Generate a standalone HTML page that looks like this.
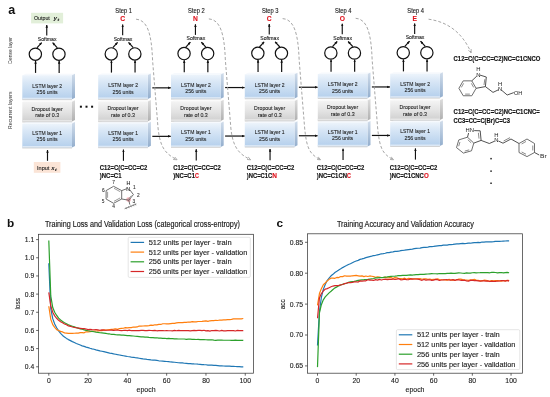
<!DOCTYPE html>
<html><head><meta charset="utf-8"><style>
html,body{margin:0;padding:0;background:#fff;overflow:hidden;width:550px;height:397px;}
svg{display:block;will-change:transform;}
text{font-family:"Liberation Sans", sans-serif;}
</style></head><body>
<svg width="550" height="397" viewBox="0 0 550 397" font-family='"Liberation Sans", sans-serif'>
<rect width="550" height="397" fill="#fff"/>
<defs>
<linearGradient id="gb" x1="0" y1="0" x2="0" y2="1"><stop offset="0" stop-color="#edf4fb"/><stop offset="0.3" stop-color="#d9e7f6"/><stop offset="0.65" stop-color="#c6dbf1"/><stop offset="1" stop-color="#b4cfec"/></linearGradient>
<linearGradient id="gg" x1="0" y1="0" x2="0" y2="1"><stop offset="0" stop-color="#f4f4f4"/><stop offset="0.55" stop-color="#e2e2e2"/><stop offset="1" stop-color="#cfcfcf"/></linearGradient>
<linearGradient id="sb" x1="0" y1="0" x2="0" y2="1"><stop offset="0" stop-color="#d0dcea"/><stop offset="1" stop-color="#93aecd"/></linearGradient>
<linearGradient id="sg" x1="0" y1="0" x2="0" y2="1"><stop offset="0" stop-color="#dcdcdc"/><stop offset="1" stop-color="#b0b0b0"/></linearGradient>
<marker id="ah" viewBox="0 0 6 6" refX="5.5" refY="3" markerWidth="3" markerHeight="3" orient="auto-start-reverse" markerUnits="userSpaceOnUse"><path d="M0,0.5 L6,3 L0,5.5 z" fill="#111"/></marker>
<marker id="ahg" viewBox="0 0 6 6" refX="5" refY="3" markerWidth="4" markerHeight="4" orient="auto" markerUnits="userSpaceOnUse"><path d="M0,0.6 L5.5,3 L0,5.4" fill="none" stroke="#8a8a8a" stroke-width="0.9"/></marker>
</defs>
<g transform="translate(0,0.30)">
<polygon points="22.80,74.90 72.00,74.90 75.00,73.40 25.80,73.40" fill="#eef4fb" opacity="0.5"/>
<polygon points="72.00,74.90 75.00,73.40 75.00,97.50 72.00,99.00" fill="url(#sb)"/>
<rect x="22.30" y="74.90" width="49.70" height="24.10" fill="url(#gb)"/>
<rect x="22.30" y="97.40" width="49.70" height="1.6" fill="#dce8f5"/>
<line x1="22.30" y1="99.40" x2="72.00" y2="99.40" stroke="#c9c9c9" stroke-width="0.8"/>
<text x="32.25" y="87.30" font-size="5.8" font-weight="normal" font-style="normal" fill="#1e1e1e" text-anchor="start" textLength="29.80" lengthAdjust="spacingAndGlyphs" stroke="#1e1e1e" stroke-width="0.1">LSTM layer 2</text>
<text x="36.60" y="93.70" font-size="5.8" font-weight="normal" font-style="normal" fill="#1e1e1e" text-anchor="start" textLength="21.10" lengthAdjust="spacingAndGlyphs" stroke="#1e1e1e" stroke-width="0.1">256 units</text>
<polygon points="22.80,101.50 72.00,101.50 75.00,100.00 25.80,100.00" fill="#f7f7f7" opacity="0.5"/>
<polygon points="72.00,101.50 75.00,100.00 75.00,119.80 72.00,121.30" fill="url(#sg)"/>
<rect x="22.30" y="101.50" width="49.70" height="19.80" fill="url(#gg)"/>
<rect x="22.30" y="119.70" width="49.70" height="1.6" fill="#e6e6e6"/>
<line x1="22.30" y1="121.70" x2="72.00" y2="121.70" stroke="#c9c9c9" stroke-width="0.8"/>
<text x="31.60" y="110.40" font-size="5.8" font-weight="normal" font-style="normal" fill="#1e1e1e" text-anchor="start" textLength="31.10" lengthAdjust="spacingAndGlyphs" stroke="#1e1e1e" stroke-width="0.1">Dropout layer</text>
<text x="35.20" y="117.20" font-size="5.8" font-weight="normal" font-style="normal" fill="#1e1e1e" text-anchor="start" textLength="23.90" lengthAdjust="spacingAndGlyphs" stroke="#1e1e1e" stroke-width="0.1">rate of 0.3</text>
<polygon points="22.80,123.30 72.00,123.30 75.00,121.80 25.80,121.80" fill="#eef4fb" opacity="0.5"/>
<polygon points="72.00,123.30 75.00,121.80 75.00,145.80 72.00,147.30" fill="url(#sb)"/>
<rect x="22.30" y="123.30" width="49.70" height="24.00" fill="url(#gb)"/>
<rect x="22.30" y="145.70" width="49.70" height="1.6" fill="#dce8f5"/>
<line x1="22.30" y1="147.70" x2="72.00" y2="147.70" stroke="#c9c9c9" stroke-width="0.8"/>
<text x="32.25" y="134.50" font-size="5.8" font-weight="normal" font-style="normal" fill="#1e1e1e" text-anchor="start" textLength="29.80" lengthAdjust="spacingAndGlyphs" stroke="#1e1e1e" stroke-width="0.1">LSTM layer 1</text>
<text x="36.60" y="141.20" font-size="5.8" font-weight="normal" font-style="normal" fill="#1e1e1e" text-anchor="start" textLength="21.10" lengthAdjust="spacingAndGlyphs" stroke="#1e1e1e" stroke-width="0.1">256 units</text>
<circle cx="35.35" cy="53.9" r="6.15" fill="none" stroke="#111" stroke-width="1.2"/>
<line x1="35.55" y1="72.6" x2="35.55" y2="60.6" stroke="#111" stroke-width="1.2" marker-end="url(#ah)"/>
<line x1="36.95" y1="47.6" x2="41.65" y2="42.4" stroke="#111" stroke-width="1.2" marker-end="url(#ah)"/>
<circle cx="58.95" cy="53.9" r="6.15" fill="none" stroke="#111" stroke-width="1.2"/>
<line x1="59.15" y1="72.6" x2="59.15" y2="60.6" stroke="#111" stroke-width="1.2" marker-end="url(#ah)"/>
<line x1="57.35" y1="47.6" x2="52.65" y2="42.4" stroke="#111" stroke-width="1.2" marker-end="url(#ah)"/>
<text x="37.80" y="40.50" font-size="5.4" font-weight="normal" font-style="normal" fill="#1a1a1a" text-anchor="start" textLength="18.70" lengthAdjust="spacingAndGlyphs" stroke="#1a1a1a" stroke-width="0.12">Softmax</text>
<line x1="46.75" y1="35.2" x2="46.75" y2="24.6" stroke="#111" stroke-width="1.15" marker-end="url(#ah)"/>
<rect x="31.1" y="12.5" width="32" height="10.6" fill="#e2efd9"/>
<text x="34.00" y="20.00" font-size="6.2" font-weight="normal" font-style="normal" fill="#1e1e1e" text-anchor="start" textLength="15.80" lengthAdjust="spacingAndGlyphs" stroke="#1e1e1e" stroke-width="0.12">Output</text>
<text x="53.40" y="19.90" font-size="5.8" font-weight="bold" font-style="italic" fill="#1e1e1e" text-anchor="start" textLength="3.60" lengthAdjust="spacingAndGlyphs">y</text>
<text x="57.20" y="21.00" font-size="4.0" font-weight="bold" font-style="italic" fill="#1e1e1e" text-anchor="start" textLength="2.20" lengthAdjust="spacingAndGlyphs">t</text>
</g>
<g transform="translate(0,0.00)">
<polygon points="98.70,74.90 147.90,74.90 150.90,73.40 101.70,73.40" fill="#eef4fb" opacity="0.5"/>
<polygon points="147.90,74.90 150.90,73.40 150.90,97.50 147.90,99.00" fill="url(#sb)"/>
<rect x="98.20" y="74.90" width="49.70" height="24.10" fill="url(#gb)"/>
<rect x="98.20" y="97.40" width="49.70" height="1.6" fill="#dce8f5"/>
<line x1="98.20" y1="99.40" x2="147.90" y2="99.40" stroke="#c9c9c9" stroke-width="0.8"/>
<text x="108.15" y="87.30" font-size="5.8" font-weight="normal" font-style="normal" fill="#1e1e1e" text-anchor="start" textLength="29.80" lengthAdjust="spacingAndGlyphs" stroke="#1e1e1e" stroke-width="0.1">LSTM layer 2</text>
<text x="112.50" y="93.70" font-size="5.8" font-weight="normal" font-style="normal" fill="#1e1e1e" text-anchor="start" textLength="21.10" lengthAdjust="spacingAndGlyphs" stroke="#1e1e1e" stroke-width="0.1">256 units</text>
<polygon points="98.70,101.50 147.90,101.50 150.90,100.00 101.70,100.00" fill="#f7f7f7" opacity="0.5"/>
<polygon points="147.90,101.50 150.90,100.00 150.90,119.80 147.90,121.30" fill="url(#sg)"/>
<rect x="98.20" y="101.50" width="49.70" height="19.80" fill="url(#gg)"/>
<rect x="98.20" y="119.70" width="49.70" height="1.6" fill="#e6e6e6"/>
<line x1="98.20" y1="121.70" x2="147.90" y2="121.70" stroke="#c9c9c9" stroke-width="0.8"/>
<text x="107.50" y="110.40" font-size="5.8" font-weight="normal" font-style="normal" fill="#1e1e1e" text-anchor="start" textLength="31.10" lengthAdjust="spacingAndGlyphs" stroke="#1e1e1e" stroke-width="0.1">Dropout layer</text>
<text x="111.10" y="117.20" font-size="5.8" font-weight="normal" font-style="normal" fill="#1e1e1e" text-anchor="start" textLength="23.90" lengthAdjust="spacingAndGlyphs" stroke="#1e1e1e" stroke-width="0.1">rate of 0.3</text>
<polygon points="98.70,123.30 147.90,123.30 150.90,121.80 101.70,121.80" fill="#eef4fb" opacity="0.5"/>
<polygon points="147.90,123.30 150.90,121.80 150.90,145.80 147.90,147.30" fill="url(#sb)"/>
<rect x="98.20" y="123.30" width="49.70" height="24.00" fill="url(#gb)"/>
<rect x="98.20" y="145.70" width="49.70" height="1.6" fill="#dce8f5"/>
<line x1="98.20" y1="147.70" x2="147.90" y2="147.70" stroke="#c9c9c9" stroke-width="0.8"/>
<text x="108.15" y="134.50" font-size="5.8" font-weight="normal" font-style="normal" fill="#1e1e1e" text-anchor="start" textLength="29.80" lengthAdjust="spacingAndGlyphs" stroke="#1e1e1e" stroke-width="0.1">LSTM layer 1</text>
<text x="112.50" y="141.20" font-size="5.8" font-weight="normal" font-style="normal" fill="#1e1e1e" text-anchor="start" textLength="21.10" lengthAdjust="spacingAndGlyphs" stroke="#1e1e1e" stroke-width="0.1">256 units</text>
<circle cx="111.25" cy="53.9" r="6.15" fill="none" stroke="#111" stroke-width="1.2"/>
<line x1="111.45" y1="72.6" x2="111.45" y2="60.6" stroke="#111" stroke-width="1.2" marker-end="url(#ah)"/>
<line x1="112.85" y1="47.6" x2="117.55" y2="42.4" stroke="#111" stroke-width="1.2" marker-end="url(#ah)"/>
<circle cx="134.85" cy="53.9" r="6.15" fill="none" stroke="#111" stroke-width="1.2"/>
<line x1="135.05" y1="72.6" x2="135.05" y2="60.6" stroke="#111" stroke-width="1.2" marker-end="url(#ah)"/>
<line x1="133.25" y1="47.6" x2="128.55" y2="42.4" stroke="#111" stroke-width="1.2" marker-end="url(#ah)"/>
<text x="113.70" y="40.50" font-size="5.4" font-weight="normal" font-style="normal" fill="#1a1a1a" text-anchor="start" textLength="18.70" lengthAdjust="spacingAndGlyphs" stroke="#1a1a1a" stroke-width="0.12">Softmax</text>
<line x1="122.65" y1="35.2" x2="122.65" y2="24.6" stroke="#111" stroke-width="1.15" marker-end="url(#ah)"/>
<text x="115.30" y="12.90" font-size="6.3" font-weight="normal" font-style="normal" fill="#1a1a1a" text-anchor="start" textLength="16.70" lengthAdjust="spacingAndGlyphs" stroke="#1a1a1a" stroke-width="0.12">Step 1</text>
<text x="122.65" y="21.40" font-size="6.7" font-weight="bold" font-style="normal" fill="#e0141e" text-anchor="middle" stroke="#e0141e" stroke-width="0.1">C</text>
<line x1="123.45" y1="160.8" x2="123.45" y2="149.6" stroke="#111" stroke-width="1.15" marker-end="url(#ah)"/>
</g>
<g transform="translate(0,-0.30)">
<polygon points="171.50,74.90 220.70,74.90 223.70,73.40 174.50,73.40" fill="#eef4fb" opacity="0.5"/>
<polygon points="220.70,74.90 223.70,73.40 223.70,97.50 220.70,99.00" fill="url(#sb)"/>
<rect x="171.00" y="74.90" width="49.70" height="24.10" fill="url(#gb)"/>
<rect x="171.00" y="97.40" width="49.70" height="1.6" fill="#dce8f5"/>
<line x1="171.00" y1="99.40" x2="220.70" y2="99.40" stroke="#c9c9c9" stroke-width="0.8"/>
<text x="180.95" y="87.30" font-size="5.8" font-weight="normal" font-style="normal" fill="#1e1e1e" text-anchor="start" textLength="29.80" lengthAdjust="spacingAndGlyphs" stroke="#1e1e1e" stroke-width="0.1">LSTM layer 2</text>
<text x="185.30" y="93.70" font-size="5.8" font-weight="normal" font-style="normal" fill="#1e1e1e" text-anchor="start" textLength="21.10" lengthAdjust="spacingAndGlyphs" stroke="#1e1e1e" stroke-width="0.1">256 units</text>
<polygon points="171.50,101.50 220.70,101.50 223.70,100.00 174.50,100.00" fill="#f7f7f7" opacity="0.5"/>
<polygon points="220.70,101.50 223.70,100.00 223.70,119.80 220.70,121.30" fill="url(#sg)"/>
<rect x="171.00" y="101.50" width="49.70" height="19.80" fill="url(#gg)"/>
<rect x="171.00" y="119.70" width="49.70" height="1.6" fill="#e6e6e6"/>
<line x1="171.00" y1="121.70" x2="220.70" y2="121.70" stroke="#c9c9c9" stroke-width="0.8"/>
<text x="180.30" y="110.40" font-size="5.8" font-weight="normal" font-style="normal" fill="#1e1e1e" text-anchor="start" textLength="31.10" lengthAdjust="spacingAndGlyphs" stroke="#1e1e1e" stroke-width="0.1">Dropout layer</text>
<text x="183.90" y="117.20" font-size="5.8" font-weight="normal" font-style="normal" fill="#1e1e1e" text-anchor="start" textLength="23.90" lengthAdjust="spacingAndGlyphs" stroke="#1e1e1e" stroke-width="0.1">rate of 0.3</text>
<polygon points="171.50,123.30 220.70,123.30 223.70,121.80 174.50,121.80" fill="#eef4fb" opacity="0.5"/>
<polygon points="220.70,123.30 223.70,121.80 223.70,145.80 220.70,147.30" fill="url(#sb)"/>
<rect x="171.00" y="123.30" width="49.70" height="24.00" fill="url(#gb)"/>
<rect x="171.00" y="145.70" width="49.70" height="1.6" fill="#dce8f5"/>
<line x1="171.00" y1="147.70" x2="220.70" y2="147.70" stroke="#c9c9c9" stroke-width="0.8"/>
<text x="180.95" y="134.50" font-size="5.8" font-weight="normal" font-style="normal" fill="#1e1e1e" text-anchor="start" textLength="29.80" lengthAdjust="spacingAndGlyphs" stroke="#1e1e1e" stroke-width="0.1">LSTM layer 1</text>
<text x="185.30" y="141.20" font-size="5.8" font-weight="normal" font-style="normal" fill="#1e1e1e" text-anchor="start" textLength="21.10" lengthAdjust="spacingAndGlyphs" stroke="#1e1e1e" stroke-width="0.1">256 units</text>
<circle cx="184.05" cy="53.9" r="6.15" fill="none" stroke="#111" stroke-width="1.2"/>
<line x1="184.25" y1="72.6" x2="184.25" y2="60.6" stroke="#111" stroke-width="1.2" marker-end="url(#ah)"/>
<line x1="185.65" y1="47.6" x2="190.35" y2="42.4" stroke="#111" stroke-width="1.2" marker-end="url(#ah)"/>
<circle cx="207.65" cy="53.9" r="6.15" fill="none" stroke="#111" stroke-width="1.2"/>
<line x1="207.85" y1="72.6" x2="207.85" y2="60.6" stroke="#111" stroke-width="1.2" marker-end="url(#ah)"/>
<line x1="206.05" y1="47.6" x2="201.35" y2="42.4" stroke="#111" stroke-width="1.2" marker-end="url(#ah)"/>
<text x="186.50" y="40.50" font-size="5.4" font-weight="normal" font-style="normal" fill="#1a1a1a" text-anchor="start" textLength="18.70" lengthAdjust="spacingAndGlyphs" stroke="#1a1a1a" stroke-width="0.12">Softmax</text>
<line x1="195.45" y1="35.2" x2="195.45" y2="24.6" stroke="#111" stroke-width="1.15" marker-end="url(#ah)"/>
<text x="188.10" y="13.13" font-size="6.3" font-weight="normal" font-style="normal" fill="#1a1a1a" text-anchor="start" textLength="16.70" lengthAdjust="spacingAndGlyphs" stroke="#1a1a1a" stroke-width="0.12">Step 2</text>
<text x="195.45" y="21.53" font-size="6.7" font-weight="bold" font-style="normal" fill="#e0141e" text-anchor="middle" stroke="#e0141e" stroke-width="0.1">N</text>
<line x1="196.25" y1="160.8" x2="196.25" y2="149.6" stroke="#111" stroke-width="1.15" marker-end="url(#ah)"/>
</g>
<g transform="translate(0,-0.60)">
<polygon points="245.30,74.90 294.50,74.90 297.50,73.40 248.30,73.40" fill="#eef4fb" opacity="0.5"/>
<polygon points="294.50,74.90 297.50,73.40 297.50,97.50 294.50,99.00" fill="url(#sb)"/>
<rect x="244.80" y="74.90" width="49.70" height="24.10" fill="url(#gb)"/>
<rect x="244.80" y="97.40" width="49.70" height="1.6" fill="#dce8f5"/>
<line x1="244.80" y1="99.40" x2="294.50" y2="99.40" stroke="#c9c9c9" stroke-width="0.8"/>
<text x="254.75" y="87.30" font-size="5.8" font-weight="normal" font-style="normal" fill="#1e1e1e" text-anchor="start" textLength="29.80" lengthAdjust="spacingAndGlyphs" stroke="#1e1e1e" stroke-width="0.1">LSTM layer 2</text>
<text x="259.10" y="93.70" font-size="5.8" font-weight="normal" font-style="normal" fill="#1e1e1e" text-anchor="start" textLength="21.10" lengthAdjust="spacingAndGlyphs" stroke="#1e1e1e" stroke-width="0.1">256 units</text>
<polygon points="245.30,101.50 294.50,101.50 297.50,100.00 248.30,100.00" fill="#f7f7f7" opacity="0.5"/>
<polygon points="294.50,101.50 297.50,100.00 297.50,119.80 294.50,121.30" fill="url(#sg)"/>
<rect x="244.80" y="101.50" width="49.70" height="19.80" fill="url(#gg)"/>
<rect x="244.80" y="119.70" width="49.70" height="1.6" fill="#e6e6e6"/>
<line x1="244.80" y1="121.70" x2="294.50" y2="121.70" stroke="#c9c9c9" stroke-width="0.8"/>
<text x="254.10" y="110.40" font-size="5.8" font-weight="normal" font-style="normal" fill="#1e1e1e" text-anchor="start" textLength="31.10" lengthAdjust="spacingAndGlyphs" stroke="#1e1e1e" stroke-width="0.1">Dropout layer</text>
<text x="257.70" y="117.20" font-size="5.8" font-weight="normal" font-style="normal" fill="#1e1e1e" text-anchor="start" textLength="23.90" lengthAdjust="spacingAndGlyphs" stroke="#1e1e1e" stroke-width="0.1">rate of 0.3</text>
<polygon points="245.30,123.30 294.50,123.30 297.50,121.80 248.30,121.80" fill="#eef4fb" opacity="0.5"/>
<polygon points="294.50,123.30 297.50,121.80 297.50,145.80 294.50,147.30" fill="url(#sb)"/>
<rect x="244.80" y="123.30" width="49.70" height="24.00" fill="url(#gb)"/>
<rect x="244.80" y="145.70" width="49.70" height="1.6" fill="#dce8f5"/>
<line x1="244.80" y1="147.70" x2="294.50" y2="147.70" stroke="#c9c9c9" stroke-width="0.8"/>
<text x="254.75" y="134.50" font-size="5.8" font-weight="normal" font-style="normal" fill="#1e1e1e" text-anchor="start" textLength="29.80" lengthAdjust="spacingAndGlyphs" stroke="#1e1e1e" stroke-width="0.1">LSTM layer 1</text>
<text x="259.10" y="141.20" font-size="5.8" font-weight="normal" font-style="normal" fill="#1e1e1e" text-anchor="start" textLength="21.10" lengthAdjust="spacingAndGlyphs" stroke="#1e1e1e" stroke-width="0.1">256 units</text>
<circle cx="257.85" cy="53.9" r="6.15" fill="none" stroke="#111" stroke-width="1.2"/>
<line x1="258.05" y1="72.6" x2="258.05" y2="60.6" stroke="#111" stroke-width="1.2" marker-end="url(#ah)"/>
<line x1="259.45" y1="47.6" x2="264.15" y2="42.4" stroke="#111" stroke-width="1.2" marker-end="url(#ah)"/>
<circle cx="281.45" cy="53.9" r="6.15" fill="none" stroke="#111" stroke-width="1.2"/>
<line x1="281.65" y1="72.6" x2="281.65" y2="60.6" stroke="#111" stroke-width="1.2" marker-end="url(#ah)"/>
<line x1="279.85" y1="47.6" x2="275.15" y2="42.4" stroke="#111" stroke-width="1.2" marker-end="url(#ah)"/>
<text x="260.30" y="40.50" font-size="5.4" font-weight="normal" font-style="normal" fill="#1a1a1a" text-anchor="start" textLength="18.70" lengthAdjust="spacingAndGlyphs" stroke="#1a1a1a" stroke-width="0.12">Softmax</text>
<line x1="269.25" y1="35.2" x2="269.25" y2="24.6" stroke="#111" stroke-width="1.15" marker-end="url(#ah)"/>
<text x="261.90" y="13.36" font-size="6.3" font-weight="normal" font-style="normal" fill="#1a1a1a" text-anchor="start" textLength="16.70" lengthAdjust="spacingAndGlyphs" stroke="#1a1a1a" stroke-width="0.12">Step 3</text>
<text x="269.25" y="21.66" font-size="6.7" font-weight="bold" font-style="normal" fill="#e0141e" text-anchor="middle" stroke="#e0141e" stroke-width="0.1">C</text>
<line x1="270.05" y1="160.8" x2="270.05" y2="149.6" stroke="#111" stroke-width="1.15" marker-end="url(#ah)"/>
</g>
<g transform="translate(0,-0.90)">
<polygon points="318.30,74.90 367.50,74.90 370.50,73.40 321.30,73.40" fill="#eef4fb" opacity="0.5"/>
<polygon points="367.50,74.90 370.50,73.40 370.50,97.50 367.50,99.00" fill="url(#sb)"/>
<rect x="317.80" y="74.90" width="49.70" height="24.10" fill="url(#gb)"/>
<rect x="317.80" y="97.40" width="49.70" height="1.6" fill="#dce8f5"/>
<line x1="317.80" y1="99.40" x2="367.50" y2="99.40" stroke="#c9c9c9" stroke-width="0.8"/>
<text x="327.75" y="87.30" font-size="5.8" font-weight="normal" font-style="normal" fill="#1e1e1e" text-anchor="start" textLength="29.80" lengthAdjust="spacingAndGlyphs" stroke="#1e1e1e" stroke-width="0.1">LSTM layer 2</text>
<text x="332.10" y="93.70" font-size="5.8" font-weight="normal" font-style="normal" fill="#1e1e1e" text-anchor="start" textLength="21.10" lengthAdjust="spacingAndGlyphs" stroke="#1e1e1e" stroke-width="0.1">256 units</text>
<polygon points="318.30,101.50 367.50,101.50 370.50,100.00 321.30,100.00" fill="#f7f7f7" opacity="0.5"/>
<polygon points="367.50,101.50 370.50,100.00 370.50,119.80 367.50,121.30" fill="url(#sg)"/>
<rect x="317.80" y="101.50" width="49.70" height="19.80" fill="url(#gg)"/>
<rect x="317.80" y="119.70" width="49.70" height="1.6" fill="#e6e6e6"/>
<line x1="317.80" y1="121.70" x2="367.50" y2="121.70" stroke="#c9c9c9" stroke-width="0.8"/>
<text x="327.10" y="110.40" font-size="5.8" font-weight="normal" font-style="normal" fill="#1e1e1e" text-anchor="start" textLength="31.10" lengthAdjust="spacingAndGlyphs" stroke="#1e1e1e" stroke-width="0.1">Dropout layer</text>
<text x="330.70" y="117.20" font-size="5.8" font-weight="normal" font-style="normal" fill="#1e1e1e" text-anchor="start" textLength="23.90" lengthAdjust="spacingAndGlyphs" stroke="#1e1e1e" stroke-width="0.1">rate of 0.3</text>
<polygon points="318.30,123.30 367.50,123.30 370.50,121.80 321.30,121.80" fill="#eef4fb" opacity="0.5"/>
<polygon points="367.50,123.30 370.50,121.80 370.50,145.80 367.50,147.30" fill="url(#sb)"/>
<rect x="317.80" y="123.30" width="49.70" height="24.00" fill="url(#gb)"/>
<rect x="317.80" y="145.70" width="49.70" height="1.6" fill="#dce8f5"/>
<line x1="317.80" y1="147.70" x2="367.50" y2="147.70" stroke="#c9c9c9" stroke-width="0.8"/>
<text x="327.75" y="134.50" font-size="5.8" font-weight="normal" font-style="normal" fill="#1e1e1e" text-anchor="start" textLength="29.80" lengthAdjust="spacingAndGlyphs" stroke="#1e1e1e" stroke-width="0.1">LSTM layer 1</text>
<text x="332.10" y="141.20" font-size="5.8" font-weight="normal" font-style="normal" fill="#1e1e1e" text-anchor="start" textLength="21.10" lengthAdjust="spacingAndGlyphs" stroke="#1e1e1e" stroke-width="0.1">256 units</text>
<circle cx="330.85" cy="53.9" r="6.15" fill="none" stroke="#111" stroke-width="1.2"/>
<line x1="331.05" y1="72.6" x2="331.05" y2="60.6" stroke="#111" stroke-width="1.2" marker-end="url(#ah)"/>
<line x1="332.45" y1="47.6" x2="337.15" y2="42.4" stroke="#111" stroke-width="1.2" marker-end="url(#ah)"/>
<circle cx="354.45" cy="53.9" r="6.15" fill="none" stroke="#111" stroke-width="1.2"/>
<line x1="354.65" y1="72.6" x2="354.65" y2="60.6" stroke="#111" stroke-width="1.2" marker-end="url(#ah)"/>
<line x1="352.85" y1="47.6" x2="348.15" y2="42.4" stroke="#111" stroke-width="1.2" marker-end="url(#ah)"/>
<text x="333.30" y="40.50" font-size="5.4" font-weight="normal" font-style="normal" fill="#1a1a1a" text-anchor="start" textLength="18.70" lengthAdjust="spacingAndGlyphs" stroke="#1a1a1a" stroke-width="0.12">Softmax</text>
<line x1="342.25" y1="35.2" x2="342.25" y2="24.6" stroke="#111" stroke-width="1.15" marker-end="url(#ah)"/>
<text x="334.90" y="13.59" font-size="6.3" font-weight="normal" font-style="normal" fill="#1a1a1a" text-anchor="start" textLength="16.70" lengthAdjust="spacingAndGlyphs" stroke="#1a1a1a" stroke-width="0.12">Step 4</text>
<text x="342.25" y="21.79" font-size="6.7" font-weight="bold" font-style="normal" fill="#e0141e" text-anchor="middle" stroke="#e0141e" stroke-width="0.1">O</text>
<line x1="343.05" y1="160.8" x2="343.05" y2="149.6" stroke="#111" stroke-width="1.15" marker-end="url(#ah)"/>
</g>
<g transform="translate(0,-1.20)">
<polygon points="390.70,74.90 439.90,74.90 442.90,73.40 393.70,73.40" fill="#eef4fb" opacity="0.5"/>
<polygon points="439.90,74.90 442.90,73.40 442.90,97.50 439.90,99.00" fill="url(#sb)"/>
<rect x="390.20" y="74.90" width="49.70" height="24.10" fill="url(#gb)"/>
<rect x="390.20" y="97.40" width="49.70" height="1.6" fill="#dce8f5"/>
<line x1="390.20" y1="99.40" x2="439.90" y2="99.40" stroke="#c9c9c9" stroke-width="0.8"/>
<text x="400.15" y="87.30" font-size="5.8" font-weight="normal" font-style="normal" fill="#1e1e1e" text-anchor="start" textLength="29.80" lengthAdjust="spacingAndGlyphs" stroke="#1e1e1e" stroke-width="0.1">LSTM layer 2</text>
<text x="404.50" y="93.70" font-size="5.8" font-weight="normal" font-style="normal" fill="#1e1e1e" text-anchor="start" textLength="21.10" lengthAdjust="spacingAndGlyphs" stroke="#1e1e1e" stroke-width="0.1">256 units</text>
<polygon points="390.70,101.50 439.90,101.50 442.90,100.00 393.70,100.00" fill="#f7f7f7" opacity="0.5"/>
<polygon points="439.90,101.50 442.90,100.00 442.90,119.80 439.90,121.30" fill="url(#sg)"/>
<rect x="390.20" y="101.50" width="49.70" height="19.80" fill="url(#gg)"/>
<rect x="390.20" y="119.70" width="49.70" height="1.6" fill="#e6e6e6"/>
<line x1="390.20" y1="121.70" x2="439.90" y2="121.70" stroke="#c9c9c9" stroke-width="0.8"/>
<text x="399.50" y="110.40" font-size="5.8" font-weight="normal" font-style="normal" fill="#1e1e1e" text-anchor="start" textLength="31.10" lengthAdjust="spacingAndGlyphs" stroke="#1e1e1e" stroke-width="0.1">Dropout layer</text>
<text x="403.10" y="117.20" font-size="5.8" font-weight="normal" font-style="normal" fill="#1e1e1e" text-anchor="start" textLength="23.90" lengthAdjust="spacingAndGlyphs" stroke="#1e1e1e" stroke-width="0.1">rate of 0.3</text>
<polygon points="390.70,123.30 439.90,123.30 442.90,121.80 393.70,121.80" fill="#eef4fb" opacity="0.5"/>
<polygon points="439.90,123.30 442.90,121.80 442.90,145.80 439.90,147.30" fill="url(#sb)"/>
<rect x="390.20" y="123.30" width="49.70" height="24.00" fill="url(#gb)"/>
<rect x="390.20" y="145.70" width="49.70" height="1.6" fill="#dce8f5"/>
<line x1="390.20" y1="147.70" x2="439.90" y2="147.70" stroke="#c9c9c9" stroke-width="0.8"/>
<text x="400.15" y="134.50" font-size="5.8" font-weight="normal" font-style="normal" fill="#1e1e1e" text-anchor="start" textLength="29.80" lengthAdjust="spacingAndGlyphs" stroke="#1e1e1e" stroke-width="0.1">LSTM layer 1</text>
<text x="404.50" y="141.20" font-size="5.8" font-weight="normal" font-style="normal" fill="#1e1e1e" text-anchor="start" textLength="21.10" lengthAdjust="spacingAndGlyphs" stroke="#1e1e1e" stroke-width="0.1">256 units</text>
<circle cx="403.25" cy="53.9" r="6.15" fill="none" stroke="#111" stroke-width="1.2"/>
<line x1="403.45" y1="72.6" x2="403.45" y2="60.6" stroke="#111" stroke-width="1.2" marker-end="url(#ah)"/>
<line x1="404.85" y1="47.6" x2="409.55" y2="42.4" stroke="#111" stroke-width="1.2" marker-end="url(#ah)"/>
<circle cx="426.85" cy="53.9" r="6.15" fill="none" stroke="#111" stroke-width="1.2"/>
<line x1="427.05" y1="72.6" x2="427.05" y2="60.6" stroke="#111" stroke-width="1.2" marker-end="url(#ah)"/>
<line x1="425.25" y1="47.6" x2="420.55" y2="42.4" stroke="#111" stroke-width="1.2" marker-end="url(#ah)"/>
<text x="405.70" y="40.50" font-size="5.4" font-weight="normal" font-style="normal" fill="#1a1a1a" text-anchor="start" textLength="18.70" lengthAdjust="spacingAndGlyphs" stroke="#1a1a1a" stroke-width="0.12">Softmax</text>
<line x1="414.65" y1="35.2" x2="414.65" y2="24.6" stroke="#111" stroke-width="1.15" marker-end="url(#ah)"/>
<text x="407.30" y="13.82" font-size="6.3" font-weight="normal" font-style="normal" fill="#1a1a1a" text-anchor="start" textLength="16.70" lengthAdjust="spacingAndGlyphs" stroke="#1a1a1a" stroke-width="0.12">Step 4</text>
<text x="414.65" y="21.92" font-size="6.7" font-weight="bold" font-style="normal" fill="#e0141e" text-anchor="middle" stroke="#e0141e" stroke-width="0.1">E</text>
<line x1="415.45" y1="160.8" x2="415.45" y2="149.6" stroke="#111" stroke-width="1.15" marker-end="url(#ah)"/>
</g>
<line x1="152.30" y1="87.85" x2="170.70" y2="87.85" stroke="#111" stroke-width="1.2" marker-end="url(#ah)"/>
<line x1="152.30" y1="136.35" x2="170.70" y2="136.35" stroke="#111" stroke-width="1.2" marker-end="url(#ah)"/>
<line x1="225.10" y1="87.55" x2="244.50" y2="87.55" stroke="#111" stroke-width="1.2" marker-end="url(#ah)"/>
<line x1="225.10" y1="136.05" x2="244.50" y2="136.05" stroke="#111" stroke-width="1.2" marker-end="url(#ah)"/>
<line x1="298.90" y1="87.25" x2="317.50" y2="87.25" stroke="#111" stroke-width="1.2" marker-end="url(#ah)"/>
<line x1="298.90" y1="135.75" x2="317.50" y2="135.75" stroke="#111" stroke-width="1.2" marker-end="url(#ah)"/>
<line x1="371.90" y1="86.95" x2="389.90" y2="86.95" stroke="#111" stroke-width="1.2" marker-end="url(#ah)"/>
<line x1="371.90" y1="135.45" x2="389.90" y2="135.45" stroke="#111" stroke-width="1.2" marker-end="url(#ah)"/>
<line x1="47.5" y1="160.8" x2="47.5" y2="150.0" stroke="#111" stroke-width="1.15" marker-end="url(#ah)"/>
<rect x="33.8" y="162" width="26.6" height="10.8" fill="#fbe4d6"/>
<text x="37.00" y="169.60" font-size="6.2" font-weight="normal" font-style="normal" fill="#1e1e1e" text-anchor="start" textLength="12.40" lengthAdjust="spacingAndGlyphs" stroke="#1e1e1e" stroke-width="0.12">Input</text>
<text x="51.20" y="169.50" font-size="5.8" font-weight="bold" font-style="italic" fill="#1e1e1e" text-anchor="start" textLength="3.40" lengthAdjust="spacingAndGlyphs">x</text>
<text x="54.80" y="170.60" font-size="4.0" font-weight="bold" font-style="italic" fill="#1e1e1e" text-anchor="start" textLength="2.20" lengthAdjust="spacingAndGlyphs">t</text>
<rect x="79.90" y="105.7" width="2" height="2" fill="#111"/>
<rect x="85.50" y="105.7" width="2" height="2" fill="#111"/>
<rect x="91.10" y="105.7" width="2" height="2" fill="#111"/>
<text transform="translate(12.1,50.4) rotate(-90)" font-size="5.2" fill="#333" text-anchor="middle" textLength="26.5" lengthAdjust="spacingAndGlyphs">Dense layer</text>
<text transform="translate(12.1,110.2) rotate(-90)" font-size="5.2" fill="#333" text-anchor="middle" textLength="37.5" lengthAdjust="spacingAndGlyphs">Recurrent layers</text>
<text x="8.20" y="14.00" font-size="12.5" font-weight="bold" font-style="normal" fill="#111" text-anchor="start">a</text>
<text x="99.80" y="169.80" font-size="7.2" font-weight="bold" font-style="normal" fill="#111" text-anchor="start" textLength="47.60" lengthAdjust="spacingAndGlyphs" stroke="#111" stroke-width="0.15">C12=C(C=CC=C2</text>
<text x="99.80" y="178.00" font-size="7.2" font-weight="bold" font-style="normal" fill="#111" text-anchor="start" textLength="21.70" lengthAdjust="spacingAndGlyphs" stroke="#111" stroke-width="0.15">)NC=C1</text>
<text x="173.30" y="169.80" font-size="7.2" font-weight="bold" font-style="normal" fill="#111" text-anchor="start" textLength="47.60" lengthAdjust="spacingAndGlyphs" stroke="#111" stroke-width="0.15">C12=C(C=CC=C2</text>
<text x="173.30" y="178.00" font-size="7.2" font-weight="bold" font-style="normal" fill="#111" text-anchor="start" textLength="21.70" lengthAdjust="spacingAndGlyphs" stroke="#111" stroke-width="0.15">)NC=C1</text>
<text x="195.05" y="178.00" font-size="7.2" font-weight="bold" font-style="normal" fill="#e0141e" text-anchor="start" textLength="3.85" lengthAdjust="spacingAndGlyphs" stroke="#e0141e" stroke-width="0.15">C</text>
<text x="246.75" y="169.80" font-size="7.2" font-weight="bold" font-style="normal" fill="#111" text-anchor="start" textLength="47.60" lengthAdjust="spacingAndGlyphs" stroke="#111" stroke-width="0.15">C12=C(C=CC=C2</text>
<text x="246.75" y="178.00" font-size="7.2" font-weight="bold" font-style="normal" fill="#111" text-anchor="start" textLength="25.55" lengthAdjust="spacingAndGlyphs" stroke="#111" stroke-width="0.15">)NC=C1C</text>
<text x="272.35" y="178.00" font-size="7.2" font-weight="bold" font-style="normal" fill="#e0141e" text-anchor="start" textLength="4.70" lengthAdjust="spacingAndGlyphs" stroke="#e0141e" stroke-width="0.15">N</text>
<text x="316.75" y="169.80" font-size="7.2" font-weight="bold" font-style="normal" fill="#111" text-anchor="start" textLength="47.60" lengthAdjust="spacingAndGlyphs" stroke="#111" stroke-width="0.15">C12=C(C=CC=C2</text>
<text x="316.75" y="178.00" font-size="7.2" font-weight="bold" font-style="normal" fill="#111" text-anchor="start" textLength="30.25" lengthAdjust="spacingAndGlyphs" stroke="#111" stroke-width="0.15">)NC=C1CN</text>
<text x="347.05" y="178.00" font-size="7.2" font-weight="bold" font-style="normal" fill="#e0141e" text-anchor="start" textLength="3.85" lengthAdjust="spacingAndGlyphs" stroke="#e0141e" stroke-width="0.15">C</text>
<text x="389.75" y="169.80" font-size="7.2" font-weight="bold" font-style="normal" fill="#111" text-anchor="start" textLength="47.60" lengthAdjust="spacingAndGlyphs" stroke="#111" stroke-width="0.15">C12=C(C=CC=C2</text>
<text x="389.75" y="178.00" font-size="7.2" font-weight="bold" font-style="normal" fill="#111" text-anchor="start" textLength="34.10" lengthAdjust="spacingAndGlyphs" stroke="#111" stroke-width="0.15">)NC=C1CNC</text>
<text x="423.90" y="178.00" font-size="7.2" font-weight="bold" font-style="normal" fill="#e0141e" text-anchor="start" textLength="4.80" lengthAdjust="spacingAndGlyphs" stroke="#e0141e" stroke-width="0.15">O</text>
<path d="M136.05,19.20 C147.55,20.00 151.55,34.00 152.55,60 L158.05,128 C160.05,148 165.80,154 176.80,159.6" fill="none" stroke="#9c9c9c" stroke-width="0.9" stroke-dasharray="3,2" marker-end="url(#ahg)"/>
<path d="M208.85,18.90 C220.35,19.70 224.35,33.70 225.35,60 L230.85,128 C232.85,148 239.25,154 250.25,159.6" fill="none" stroke="#9c9c9c" stroke-width="0.9" stroke-dasharray="3,2" marker-end="url(#ahg)"/>
<path d="M282.65,18.60 C294.15,19.40 298.15,33.40 299.15,60 L304.65,128 C306.65,148 309.25,154 320.25,159.6" fill="none" stroke="#9c9c9c" stroke-width="0.9" stroke-dasharray="3,2" marker-end="url(#ahg)"/>
<path d="M355.65,18.30 C367.15,19.10 371.15,33.10 372.15,60 L377.65,128 C379.65,148 382.25,154 393.25,159.6" fill="none" stroke="#9c9c9c" stroke-width="0.9" stroke-dasharray="3,2" marker-end="url(#ahg)"/>
<path d="M428.55,19.2 C445.05,21.5 461.05,30 471.05,52.5" fill="none" stroke="#9c9c9c" stroke-width="0.9" stroke-dasharray="3,2" marker-end="url(#ahg)"/>
<circle cx="128.6" cy="199.6" r="2.4" fill="#f3a0a8" opacity="0.85"/>
<polygon points="113.60,186.30 121.70,190.60 121.70,199.00 113.60,203.30 106.10,199.00 106.10,190.60" fill="none" stroke="#4a4a4a" stroke-width="0.8" stroke-linejoin="round"/>
<line x1="107.60" y1="191.80" x2="107.60" y2="197.80" stroke="#8a8a8a" stroke-width="0.85"/>
<line x1="114.00" y1="188.30" x2="120.20" y2="191.70" stroke="#8a8a8a" stroke-width="0.85"/>
<line x1="114.00" y1="201.30" x2="120.20" y2="197.90" stroke="#8a8a8a" stroke-width="0.85"/>
<line x1="121.70" y1="190.60" x2="126.60" y2="188.80" stroke="#4a4a4a" stroke-width="0.8"/>
<line x1="129.80" y1="189.80" x2="133.40" y2="194.60" stroke="#4a4a4a" stroke-width="0.8"/>
<line x1="133.40" y1="194.60" x2="128.80" y2="200.20" stroke="#4a4a4a" stroke-width="0.8"/>
<line x1="131.40" y1="195.60" x2="128.20" y2="199.40" stroke="#8a8a8a" stroke-width="0.85"/>
<line x1="128.80" y1="200.20" x2="121.70" y2="199.00" stroke="#4a4a4a" stroke-width="0.8"/>
<line x1="128.80" y1="200.20" x2="129.80" y2="204.60" stroke="#4a4a4a" stroke-width="0.8"/>
<line x1="124.60" y1="208.80" x2="136.40" y2="204.00" stroke="#555" stroke-width="0.7"/>
<line x1="125.92" y1="206.98" x2="126.82" y2="209.18" stroke="#666" stroke-width="0.5"/>
<line x1="128.28" y1="206.02" x2="129.18" y2="208.22" stroke="#666" stroke-width="0.5"/>
<line x1="130.64" y1="205.06" x2="131.54" y2="207.26" stroke="#666" stroke-width="0.5"/>
<line x1="133.00" y1="204.10" x2="133.90" y2="206.30" stroke="#666" stroke-width="0.5"/>
<line x1="135.01" y1="203.28" x2="135.91" y2="205.48" stroke="#666" stroke-width="0.5"/>
<text x="128.30" y="190.60" font-size="5.4" font-weight="normal" font-style="normal" fill="#222" text-anchor="middle" stroke="#222" stroke-width="0.1">N</text>
<text x="128.50" y="185.00" font-size="5.4" font-weight="normal" font-style="normal" fill="#222" text-anchor="middle" stroke="#222" stroke-width="0.1">H</text>
<text x="113.60" y="184.30" font-size="4.8" font-weight="normal" font-style="normal" fill="#2a2a2a" text-anchor="middle" stroke="#2a2a2a" stroke-width="0.08">7</text>
<text x="103.40" y="192.40" font-size="4.8" font-weight="normal" font-style="normal" fill="#2a2a2a" text-anchor="middle" stroke="#2a2a2a" stroke-width="0.08">6</text>
<text x="103.00" y="202.60" font-size="4.8" font-weight="normal" font-style="normal" fill="#2a2a2a" text-anchor="middle" stroke="#2a2a2a" stroke-width="0.08">5</text>
<text x="113.60" y="208.40" font-size="4.8" font-weight="normal" font-style="normal" fill="#2a2a2a" text-anchor="middle" stroke="#2a2a2a" stroke-width="0.08">4</text>
<text x="134.40" y="188.60" font-size="4.8" font-weight="normal" font-style="normal" fill="#2a2a2a" text-anchor="middle" stroke="#2a2a2a" stroke-width="0.08">1</text>
<text x="138.40" y="196.60" font-size="4.8" font-weight="normal" font-style="normal" fill="#2a2a2a" text-anchor="middle" stroke="#2a2a2a" stroke-width="0.08">2</text>
<text x="133.90" y="203.40" font-size="4.8" font-weight="normal" font-style="normal" fill="#2a2a2a" text-anchor="middle" stroke="#2a2a2a" stroke-width="0.08">3</text>
<text x="453.60" y="61.30" font-size="7.2" font-weight="bold" font-style="normal" fill="#111" text-anchor="start" textLength="86.80" lengthAdjust="spacingAndGlyphs" stroke="#111" stroke-width="0.15">C12=C(C=CC=C2)NC=C1CNCO</text>
<text x="453.60" y="113.60" font-size="7.2" font-weight="bold" font-style="normal" fill="#111" text-anchor="start" textLength="86.20" lengthAdjust="spacingAndGlyphs" stroke="#111" stroke-width="0.15">C12=C(C=CC=C2)NC=C1CNC=</text>
<text x="453.60" y="122.50" font-size="7.2" font-weight="bold" font-style="normal" fill="#111" text-anchor="start" textLength="56.40" lengthAdjust="spacingAndGlyphs" stroke="#111" stroke-width="0.15">CC3=CC=C(Br)C=C3</text>
<polygon points="476.10,88.30 471.80,80.85 463.20,80.85 458.90,88.30 463.20,95.75 471.80,95.75" fill="none" stroke="#555" stroke-width="0.85" stroke-linejoin="round"/>
<line x1="463.64" y1="83.36" x2="461.30" y2="87.43" stroke="#777" stroke-width="0.85"/>
<line x1="465.15" y1="94.11" x2="469.85" y2="94.11" stroke="#777" stroke-width="0.85"/>
<line x1="473.70" y1="87.43" x2="471.36" y2="83.36" stroke="#777" stroke-width="0.85"/>
<line x1="471.80" y1="80.85" x2="476.70" y2="76.20" stroke="#333" stroke-width="0.85"/>
<line x1="480.00" y1="75.10" x2="486.30" y2="77.00" stroke="#333" stroke-width="0.85"/>
<line x1="486.30" y1="77.00" x2="485.40" y2="86.60" stroke="#333" stroke-width="0.85"/>
<line x1="484.80" y1="79.20" x2="484.00" y2="85.00" stroke="#777" stroke-width="0.85"/>
<line x1="485.40" y1="86.60" x2="476.10" y2="88.30" stroke="#333" stroke-width="0.85"/>
<text x="478.30" y="76.60" font-size="5.9" font-weight="normal" font-style="normal" fill="#222" text-anchor="middle">N</text>
<text x="478.30" y="71.00" font-size="5.9" font-weight="normal" font-style="normal" fill="#222" text-anchor="middle">H</text>
<line x1="485.40" y1="86.60" x2="493.00" y2="92.40" stroke="#333" stroke-width="0.85"/>
<line x1="493.00" y1="92.40" x2="498.60" y2="89.70" stroke="#333" stroke-width="0.85"/>
<text x="500.20" y="91.40" font-size="5.9" font-weight="normal" font-style="normal" fill="#222" text-anchor="middle">N</text>
<text x="500.20" y="86.00" font-size="5.9" font-weight="normal" font-style="normal" fill="#222" text-anchor="middle">H</text>
<line x1="501.80" y1="90.40" x2="507.20" y2="95.00" stroke="#333" stroke-width="0.85"/>
<line x1="507.20" y1="95.00" x2="513.80" y2="92.60" stroke="#333" stroke-width="0.85"/>
<text x="514.00" y="94.60" font-size="5.9" font-weight="normal" font-style="normal" fill="#222" text-anchor="start" textLength="8.40" lengthAdjust="spacingAndGlyphs">OH</text>
<polygon points="467.50,137.20 473.80,143.10 471.50,150.80 463.40,153.10 456.50,147.60 458.80,139.90" fill="none" stroke="#555" stroke-width="0.85" stroke-linejoin="round"/>
<line x1="467.74" y1="139.67" x2="471.18" y2="142.89" stroke="#777" stroke-width="0.85"/>
<line x1="469.18" y1="149.86" x2="464.75" y2="151.11" stroke="#777" stroke-width="0.85"/>
<line x1="458.69" y1="146.19" x2="459.95" y2="141.99" stroke="#777" stroke-width="0.85"/>
<text x="465.60" y="132.00" font-size="5.9" font-weight="normal" font-style="normal" fill="#222" text-anchor="start" textLength="8.40" lengthAdjust="spacingAndGlyphs">HN</text>
<line x1="467.50" y1="137.20" x2="468.60" y2="133.00" stroke="#333" stroke-width="0.85"/>
<line x1="474.20" y1="130.60" x2="480.20" y2="130.80" stroke="#333" stroke-width="0.85"/>
<line x1="480.20" y1="130.80" x2="481.10" y2="140.40" stroke="#333" stroke-width="0.85"/>
<line x1="478.40" y1="132.80" x2="479.00" y2="138.60" stroke="#777" stroke-width="0.85"/>
<line x1="481.10" y1="140.40" x2="473.80" y2="143.10" stroke="#333" stroke-width="0.85"/>
<line x1="481.10" y1="140.40" x2="489.30" y2="143.50" stroke="#333" stroke-width="0.85"/>
<line x1="489.30" y1="143.50" x2="494.60" y2="141.20" stroke="#333" stroke-width="0.85"/>
<text x="496.50" y="142.30" font-size="5.9" font-weight="normal" font-style="normal" fill="#222" text-anchor="middle">N</text>
<text x="496.50" y="136.60" font-size="5.9" font-weight="normal" font-style="normal" fill="#222" text-anchor="middle">H</text>
<line x1="498.40" y1="141.00" x2="503.00" y2="143.20" stroke="#333" stroke-width="0.85"/>
<line x1="503.00" y1="143.20" x2="511.00" y2="139.00" stroke="#333" stroke-width="0.85"/>
<line x1="503.60" y1="141.00" x2="510.00" y2="137.60" stroke="#777" stroke-width="0.85"/>
<line x1="511.00" y1="139.00" x2="519.00" y2="143.50" stroke="#333" stroke-width="0.85"/>
<polygon points="519.00,143.50 527.00,139.00 534.50,143.50 534.50,152.50 527.00,156.60 519.00,152.50" fill="none" stroke="#555" stroke-width="0.85" stroke-linejoin="round"/>
<line x1="521.64" y1="143.94" x2="526.01" y2="141.48" stroke="#777" stroke-width="0.85"/>
<line x1="532.79" y1="145.52" x2="532.79" y2="150.44" stroke="#777" stroke-width="0.85"/>
<line x1="526.01" y1="154.21" x2="521.64" y2="151.97" stroke="#777" stroke-width="0.85"/>
<line x1="534.50" y1="152.50" x2="539.20" y2="155.00" stroke="#333" stroke-width="0.85"/>
<text x="540.00" y="158.00" font-size="5.9" font-weight="normal" font-style="normal" fill="#222" text-anchor="start" textLength="6.60" lengthAdjust="spacingAndGlyphs">Br</text>
<rect x="490.30" y="157.90" width="1.5" height="1.5" fill="#222"/>
<rect x="490.30" y="170.40" width="1.5" height="1.5" fill="#222"/>
<rect x="490.30" y="182.50" width="1.5" height="1.5" fill="#222"/>
<line x1="48.80" y1="373.20" x2="48.80" y2="375.70" stroke="#333" stroke-width="0.75"/>
<text x="46.90" y="382.90" font-size="6.8" font-weight="normal" font-style="normal" fill="#222" text-anchor="start" textLength="3.80" lengthAdjust="spacingAndGlyphs" stroke="#222" stroke-width="0.12">0</text>
<line x1="88.09" y1="373.20" x2="88.09" y2="375.70" stroke="#333" stroke-width="0.75"/>
<text x="84.29" y="382.90" font-size="6.8" font-weight="normal" font-style="normal" fill="#222" text-anchor="start" textLength="7.60" lengthAdjust="spacingAndGlyphs" stroke="#222" stroke-width="0.12">20</text>
<line x1="127.38" y1="373.20" x2="127.38" y2="375.70" stroke="#333" stroke-width="0.75"/>
<text x="123.58" y="382.90" font-size="6.8" font-weight="normal" font-style="normal" fill="#222" text-anchor="start" textLength="7.60" lengthAdjust="spacingAndGlyphs" stroke="#222" stroke-width="0.12">40</text>
<line x1="166.67" y1="373.20" x2="166.67" y2="375.70" stroke="#333" stroke-width="0.75"/>
<text x="162.87" y="382.90" font-size="6.8" font-weight="normal" font-style="normal" fill="#222" text-anchor="start" textLength="7.60" lengthAdjust="spacingAndGlyphs" stroke="#222" stroke-width="0.12">60</text>
<line x1="205.96" y1="373.20" x2="205.96" y2="375.70" stroke="#333" stroke-width="0.75"/>
<text x="202.16" y="382.90" font-size="6.8" font-weight="normal" font-style="normal" fill="#222" text-anchor="start" textLength="7.60" lengthAdjust="spacingAndGlyphs" stroke="#222" stroke-width="0.12">80</text>
<line x1="245.25" y1="373.20" x2="245.25" y2="375.70" stroke="#333" stroke-width="0.75"/>
<text x="239.55" y="382.90" font-size="6.8" font-weight="normal" font-style="normal" fill="#222" text-anchor="start" textLength="11.40" lengthAdjust="spacingAndGlyphs" stroke="#222" stroke-width="0.12">100</text>
<line x1="36.10" y1="239.60" x2="38.60" y2="239.60" stroke="#333" stroke-width="0.75"/>
<text x="24.80" y="242.05" font-size="6.8" font-weight="normal" font-style="normal" fill="#222" text-anchor="start" textLength="9.40" lengthAdjust="spacingAndGlyphs" stroke="#222" stroke-width="0.12">1.1</text>
<line x1="36.10" y1="257.77" x2="38.60" y2="257.77" stroke="#333" stroke-width="0.75"/>
<text x="24.80" y="260.22" font-size="6.8" font-weight="normal" font-style="normal" fill="#222" text-anchor="start" textLength="9.40" lengthAdjust="spacingAndGlyphs" stroke="#222" stroke-width="0.12">1.0</text>
<line x1="36.10" y1="275.94" x2="38.60" y2="275.94" stroke="#333" stroke-width="0.75"/>
<text x="24.80" y="278.39" font-size="6.8" font-weight="normal" font-style="normal" fill="#222" text-anchor="start" textLength="9.40" lengthAdjust="spacingAndGlyphs" stroke="#222" stroke-width="0.12">0.9</text>
<line x1="36.10" y1="294.11" x2="38.60" y2="294.11" stroke="#333" stroke-width="0.75"/>
<text x="24.80" y="296.56" font-size="6.8" font-weight="normal" font-style="normal" fill="#222" text-anchor="start" textLength="9.40" lengthAdjust="spacingAndGlyphs" stroke="#222" stroke-width="0.12">0.8</text>
<line x1="36.10" y1="312.28" x2="38.60" y2="312.28" stroke="#333" stroke-width="0.75"/>
<text x="24.80" y="314.73" font-size="6.8" font-weight="normal" font-style="normal" fill="#222" text-anchor="start" textLength="9.40" lengthAdjust="spacingAndGlyphs" stroke="#222" stroke-width="0.12">0.7</text>
<line x1="36.10" y1="330.45" x2="38.60" y2="330.45" stroke="#333" stroke-width="0.75"/>
<text x="24.80" y="332.90" font-size="6.8" font-weight="normal" font-style="normal" fill="#222" text-anchor="start" textLength="9.40" lengthAdjust="spacingAndGlyphs" stroke="#222" stroke-width="0.12">0.6</text>
<line x1="36.10" y1="348.62" x2="38.60" y2="348.62" stroke="#333" stroke-width="0.75"/>
<text x="24.80" y="351.07" font-size="6.8" font-weight="normal" font-style="normal" fill="#222" text-anchor="start" textLength="9.40" lengthAdjust="spacingAndGlyphs" stroke="#222" stroke-width="0.12">0.5</text>
<line x1="36.10" y1="366.79" x2="38.60" y2="366.79" stroke="#333" stroke-width="0.75"/>
<text x="24.80" y="369.24" font-size="6.8" font-weight="normal" font-style="normal" fill="#222" text-anchor="start" textLength="9.40" lengthAdjust="spacingAndGlyphs" stroke="#222" stroke-width="0.12">0.4</text>
<clipPath id="cp38"><rect x="38.6" y="234.3" width="215.0" height="138.89999999999998"/></clipPath>
<g clip-path="url(#cp38)">
<polyline points="48.80,263.22 50.76,308.65 52.73,318.64 54.69,324.02 56.66,327.73 58.62,330.81 60.59,333.37 62.55,335.42 64.52,336.95 66.48,338.39 68.44,339.61 70.41,340.61 72.37,341.62 74.34,342.53 76.30,343.49 78.27,344.26 80.23,345.04 82.20,345.86 84.16,346.44 86.13,347.10 88.09,347.58 90.05,348.26 92.02,348.83 93.98,349.28 95.95,349.84 97.91,350.30 99.88,350.84 101.84,351.28 103.81,351.69 105.77,352.15 107.73,352.61 109.70,353.10 111.66,353.43 113.63,353.86 115.59,354.22 117.56,354.64 119.52,354.97 121.49,355.40 123.45,355.74 125.42,356.06 127.38,356.49 129.34,356.78 131.31,357.11 133.27,357.28 135.24,357.70 137.20,357.95 139.17,358.24 141.13,358.57 143.10,358.91 145.06,359.03 147.02,359.36 148.99,359.55 150.95,359.89 152.92,360.08 154.88,360.21 156.85,360.42 158.81,360.78 160.78,360.99 162.74,361.12 164.71,361.28 166.67,361.51 168.63,361.70 170.60,361.97 172.56,362.07 174.53,362.23 176.49,362.50 178.46,362.73 180.42,362.87 182.39,362.96 184.35,363.27 186.31,363.34 188.28,363.55 190.24,363.66 192.21,363.82 194.17,363.95 196.14,364.01 198.10,364.22 200.07,364.31 202.03,364.53 204.00,364.68 205.96,364.77 207.92,365.08 209.89,365.07 211.85,365.19 213.82,365.40 215.78,365.44 217.75,365.62 219.71,365.85 221.68,365.85 223.64,366.01 225.60,366.09 227.57,366.17 229.53,366.20 231.50,366.35 233.46,366.45 235.43,366.52 237.39,366.72 239.36,366.64 241.32,366.85 243.29,366.86" fill="none" stroke="#1f77b4" stroke-width="1.2" stroke-linejoin="round"/>
<polyline points="48.80,306.28 50.76,319.18 52.73,324.64 54.69,327.30 56.66,329.66 58.62,330.49 60.59,331.33 62.55,331.93 64.52,332.89 66.48,333.07 68.44,333.31 70.41,333.37 72.37,333.33 74.34,333.27 76.30,333.15 78.27,333.08 80.23,332.60 82.20,332.55 84.16,332.80 86.13,331.74 88.09,331.79 90.05,331.66 92.02,331.30 93.98,331.13 95.95,330.99 97.91,330.97 99.88,330.57 101.84,330.67 103.81,329.90 105.77,330.17 107.73,329.76 109.70,329.51 111.66,329.28 113.63,329.16 115.59,328.83 117.56,329.38 119.52,328.57 121.49,328.38 123.45,328.23 125.42,327.68 127.38,327.93 129.34,327.55 131.31,327.69 133.27,327.05 135.24,327.17 137.20,326.93 139.17,325.99 141.13,326.07 143.10,325.98 145.06,325.74 147.02,325.83 148.99,325.56 150.95,325.10 152.92,325.37 154.88,324.75 156.85,324.93 158.81,324.41 160.78,324.46 162.74,323.76 164.71,323.73 166.67,323.85 168.63,323.94 170.60,323.58 172.56,323.30 174.53,323.32 176.49,322.94 178.46,322.67 180.42,322.72 182.39,322.65 184.35,322.29 186.31,322.35 188.28,322.01 190.24,322.09 192.21,321.61 194.17,321.83 196.14,321.85 198.10,321.51 200.07,321.52 202.03,321.45 204.00,321.18 205.96,320.89 207.92,321.30 209.89,320.78 211.85,320.67 213.82,320.54 215.78,320.24 217.75,320.50 219.71,320.01 221.68,320.05 223.64,319.86 225.60,319.79 227.57,319.69 229.53,319.59 231.50,319.29 233.46,318.85 235.43,318.92 237.39,318.83 239.36,318.76 241.32,318.82 243.29,318.49" fill="none" stroke="#ff7f0e" stroke-width="1.2" stroke-linejoin="round"/>
<polyline points="48.80,240.51 50.76,295.93 52.73,307.56 54.69,312.27 56.66,315.45 58.62,318.16 60.59,319.96 62.55,321.57 64.52,322.81 66.48,323.74 68.44,324.81 70.41,325.64 72.37,326.30 74.34,326.92 76.30,327.60 78.27,328.14 80.23,328.81 82.20,329.29 84.16,329.80 86.13,330.32 88.09,330.74 90.05,331.13 92.02,331.39 93.98,331.74 95.95,332.08 97.91,332.37 99.88,332.77 101.84,332.97 103.81,333.21 105.77,333.43 107.73,333.78 109.70,333.97 111.66,334.29 113.63,334.38 115.59,334.68 117.56,334.80 119.52,334.79 121.49,335.20 123.45,335.14 125.42,335.34 127.38,335.56 129.34,335.68 131.31,335.84 133.27,335.98 135.24,336.24 137.20,336.43 139.17,336.60 141.13,336.79 143.10,336.88 145.06,337.08 147.02,337.10 148.99,337.45 150.95,337.54 152.92,337.67 154.88,337.89 156.85,337.73 158.81,338.18 160.78,338.14 162.74,338.28 164.71,338.23 166.67,338.59 168.63,338.46 170.60,338.67 172.56,338.71 174.53,338.82 176.49,338.80 178.46,339.00 180.42,338.99 182.39,339.02 184.35,338.98 186.31,339.35 188.28,339.12 190.24,339.22 192.21,339.38 194.17,339.38 196.14,339.49 198.10,339.39 200.07,339.54 202.03,339.63 204.00,339.68 205.96,339.73 207.92,339.79 209.89,339.90 211.85,339.75 213.82,340.10 215.78,340.29 217.75,340.09 219.71,340.15 221.68,340.16 223.64,340.24 225.60,340.27 227.57,340.26 229.53,340.24 231.50,340.36 233.46,340.37 235.43,340.22 237.39,340.34 239.36,340.47 241.32,340.24 243.29,340.37" fill="none" stroke="#2ca02c" stroke-width="1.2" stroke-linejoin="round"/>
<polyline points="48.80,292.29 50.76,305.92 52.73,312.28 54.69,315.91 56.66,318.27 58.62,320.36 60.59,321.72 62.55,322.83 64.52,323.98 66.48,324.70 68.44,325.89 70.41,326.30 72.37,326.97 74.34,327.46 76.30,327.76 78.27,328.05 80.23,328.34 82.20,328.63 84.16,328.58 86.13,329.05 88.09,329.65 90.05,329.43 92.02,329.68 93.98,329.75 95.95,329.49 97.91,329.84 99.88,330.22 101.84,329.87 103.81,330.04 105.77,330.25 107.73,330.25 109.70,330.25 111.66,330.19 113.63,330.30 115.59,330.26 117.56,329.98 119.52,330.49 121.49,330.53 123.45,330.45 125.42,330.23 127.38,330.58 129.34,330.20 131.31,330.72 133.27,330.68 135.24,330.52 137.20,330.68 139.17,330.64 141.13,330.46 143.10,330.42 145.06,330.55 147.02,330.63 148.99,330.34 150.95,330.52 152.92,330.65 154.88,330.39 156.85,330.78 158.81,330.59 160.78,330.51 162.74,330.63 164.71,330.74 166.67,330.57 168.63,330.73 170.60,330.74 172.56,330.82 174.53,330.39 176.49,330.73 178.46,330.42 180.42,330.56 182.39,330.68 184.35,330.51 186.31,330.58 188.28,330.61 190.24,330.88 192.21,330.62 194.17,330.47 196.14,330.54 198.10,330.45 200.07,330.36 202.03,330.56 204.00,330.27 205.96,330.91 207.92,330.68 209.89,331.09 211.85,330.48 213.82,330.61 215.78,330.32 217.75,330.70 219.71,331.00 221.68,330.40 223.64,330.88 225.60,330.86 227.57,330.66 229.53,330.52 231.50,330.72 233.46,330.60 235.43,330.97 237.39,330.32 239.36,330.64 241.32,330.61 243.29,330.53" fill="none" stroke="#d62728" stroke-width="1.2" stroke-linejoin="round"/>
</g>
<rect x="38.60" y="234.30" width="215.00" height="138.90" fill="none" stroke="#3a3a3a" stroke-width="0.75"/>
<text x="44.90" y="226.80" font-size="8.4" font-weight="normal" font-style="normal" fill="#1a1a1a" text-anchor="start" textLength="195.00" lengthAdjust="spacingAndGlyphs" stroke="#1a1a1a" stroke-width="0.16">Training Loss and Validation Loss (categorical cross-entropy)</text>
<text x="136.60" y="392.20" font-size="6.9" font-weight="normal" font-style="normal" fill="#222" text-anchor="start" textLength="19.00" lengthAdjust="spacingAndGlyphs" stroke="#222" stroke-width="0.12">epoch</text>
<text transform="translate(20.3,303.8) rotate(-90)" font-size="6.8" fill="#222" stroke="#222" stroke-width="0.12" text-anchor="middle" textLength="11.6" lengthAdjust="spacingAndGlyphs">loss</text>
<rect x="128.20" y="237.30" width="122.10" height="40.10" rx="1.2" fill="#fff" fill-opacity="0.85" stroke="#d4d4d4" stroke-width="0.6"/>
<line x1="130.60" y1="242.40" x2="144.10" y2="242.40" stroke="#1f77b4" stroke-width="1.2"/>
<text x="148.70" y="245.00" font-size="6.9" font-weight="normal" font-style="normal" fill="#222" text-anchor="start" textLength="82.90" lengthAdjust="spacingAndGlyphs" stroke="#222" stroke-width="0.12">512 units per layer - train</text>
<line x1="130.60" y1="252.10" x2="144.10" y2="252.10" stroke="#ff7f0e" stroke-width="1.2"/>
<text x="148.70" y="254.70" font-size="6.9" font-weight="normal" font-style="normal" fill="#222" text-anchor="start" textLength="98.60" lengthAdjust="spacingAndGlyphs" stroke="#222" stroke-width="0.12">512 units per layer - validation</text>
<line x1="130.60" y1="261.80" x2="144.10" y2="261.80" stroke="#2ca02c" stroke-width="1.2"/>
<text x="148.70" y="264.40" font-size="6.9" font-weight="normal" font-style="normal" fill="#222" text-anchor="start" textLength="82.90" lengthAdjust="spacingAndGlyphs" stroke="#222" stroke-width="0.12">256 units per layer - train</text>
<line x1="130.60" y1="271.50" x2="144.10" y2="271.50" stroke="#d62728" stroke-width="1.2"/>
<text x="148.70" y="274.10" font-size="6.9" font-weight="normal" font-style="normal" fill="#222" text-anchor="start" textLength="98.60" lengthAdjust="spacingAndGlyphs" stroke="#222" stroke-width="0.12">256 units per layer - validation</text>
<line x1="317.50" y1="373.20" x2="317.50" y2="375.70" stroke="#333" stroke-width="0.75"/>
<text x="315.60" y="382.90" font-size="6.8" font-weight="normal" font-style="normal" fill="#222" text-anchor="start" textLength="3.80" lengthAdjust="spacingAndGlyphs" stroke="#222" stroke-width="0.12">0</text>
<line x1="356.21" y1="373.20" x2="356.21" y2="375.70" stroke="#333" stroke-width="0.75"/>
<text x="352.41" y="382.90" font-size="6.8" font-weight="normal" font-style="normal" fill="#222" text-anchor="start" textLength="7.60" lengthAdjust="spacingAndGlyphs" stroke="#222" stroke-width="0.12">20</text>
<line x1="394.92" y1="373.20" x2="394.92" y2="375.70" stroke="#333" stroke-width="0.75"/>
<text x="391.12" y="382.90" font-size="6.8" font-weight="normal" font-style="normal" fill="#222" text-anchor="start" textLength="7.60" lengthAdjust="spacingAndGlyphs" stroke="#222" stroke-width="0.12">40</text>
<line x1="433.63" y1="373.20" x2="433.63" y2="375.70" stroke="#333" stroke-width="0.75"/>
<text x="429.83" y="382.90" font-size="6.8" font-weight="normal" font-style="normal" fill="#222" text-anchor="start" textLength="7.60" lengthAdjust="spacingAndGlyphs" stroke="#222" stroke-width="0.12">60</text>
<line x1="472.34" y1="373.20" x2="472.34" y2="375.70" stroke="#333" stroke-width="0.75"/>
<text x="468.54" y="382.90" font-size="6.8" font-weight="normal" font-style="normal" fill="#222" text-anchor="start" textLength="7.60" lengthAdjust="spacingAndGlyphs" stroke="#222" stroke-width="0.12">80</text>
<line x1="511.05" y1="373.20" x2="511.05" y2="375.70" stroke="#333" stroke-width="0.75"/>
<text x="505.35" y="382.90" font-size="6.8" font-weight="normal" font-style="normal" fill="#222" text-anchor="start" textLength="11.40" lengthAdjust="spacingAndGlyphs" stroke="#222" stroke-width="0.12">100</text>
<line x1="305.00" y1="242.30" x2="307.50" y2="242.30" stroke="#333" stroke-width="0.75"/>
<text x="289.80" y="244.75" font-size="6.8" font-weight="normal" font-style="normal" fill="#222" text-anchor="start" textLength="13.30" lengthAdjust="spacingAndGlyphs" stroke="#222" stroke-width="0.12">0.85</text>
<line x1="305.00" y1="273.20" x2="307.50" y2="273.20" stroke="#333" stroke-width="0.75"/>
<text x="289.80" y="275.65" font-size="6.8" font-weight="normal" font-style="normal" fill="#222" text-anchor="start" textLength="13.30" lengthAdjust="spacingAndGlyphs" stroke="#222" stroke-width="0.12">0.80</text>
<line x1="305.00" y1="304.10" x2="307.50" y2="304.10" stroke="#333" stroke-width="0.75"/>
<text x="289.80" y="306.55" font-size="6.8" font-weight="normal" font-style="normal" fill="#222" text-anchor="start" textLength="13.30" lengthAdjust="spacingAndGlyphs" stroke="#222" stroke-width="0.12">0.75</text>
<line x1="305.00" y1="335.00" x2="307.50" y2="335.00" stroke="#333" stroke-width="0.75"/>
<text x="289.80" y="337.45" font-size="6.8" font-weight="normal" font-style="normal" fill="#222" text-anchor="start" textLength="13.30" lengthAdjust="spacingAndGlyphs" stroke="#222" stroke-width="0.12">0.70</text>
<line x1="305.00" y1="365.90" x2="307.50" y2="365.90" stroke="#333" stroke-width="0.75"/>
<text x="289.80" y="368.35" font-size="6.8" font-weight="normal" font-style="normal" fill="#222" text-anchor="start" textLength="13.30" lengthAdjust="spacingAndGlyphs" stroke="#222" stroke-width="0.12">0.65</text>
<clipPath id="cp307"><rect x="307.5" y="233.8" width="215.0" height="139.39999999999998"/></clipPath>
<g clip-path="url(#cp307)">
<polyline points="317.50,345.51 319.44,311.52 321.37,297.30 323.31,289.38 325.24,284.43 327.18,280.55 329.11,278.05 331.05,275.84 332.98,274.34 334.92,272.56 336.86,271.33 338.79,269.92 340.73,268.84 342.66,267.60 344.60,266.59 346.53,265.59 348.47,264.52 350.40,263.70 352.34,262.73 354.27,261.79 356.21,261.05 358.15,260.35 360.08,259.40 362.02,258.93 363.95,258.34 365.89,257.67 367.82,257.18 369.76,256.66 371.69,256.19 373.63,255.53 375.56,255.28 377.50,254.82 379.44,254.34 381.37,253.79 383.31,253.59 385.24,253.23 387.18,252.58 389.11,252.60 391.05,252.19 392.98,251.80 394.92,251.36 396.86,251.37 398.79,251.21 400.73,250.64 402.66,250.47 404.60,250.18 406.53,249.82 408.47,249.57 410.40,249.29 412.34,249.09 414.27,248.67 416.21,248.39 418.15,248.26 420.08,248.05 422.02,247.68 423.95,247.45 425.89,247.34 427.82,247.04 429.76,246.66 431.69,246.54 433.63,246.35 435.57,246.09 437.50,245.91 439.44,245.71 441.37,245.70 443.31,245.17 445.24,245.14 447.18,245.06 449.11,244.71 451.05,244.60 452.99,244.46 454.92,244.20 456.86,243.92 458.79,243.92 460.73,243.66 462.66,243.45 464.60,243.59 466.53,243.40 468.47,243.13 470.40,243.22 472.34,242.94 474.28,242.66 476.21,242.55 478.15,242.46 480.08,242.56 482.02,242.04 483.95,242.09 485.89,241.95 487.82,241.86 489.76,241.95 491.69,241.82 493.63,241.69 495.57,241.30 497.50,241.46 499.44,241.31 501.37,241.23 503.31,241.06 505.24,240.98 507.18,240.91 509.11,240.96" fill="none" stroke="#1f77b4" stroke-width="1.2" stroke-linejoin="round"/>
<polyline points="317.50,305.34 319.44,293.59 321.37,288.65 323.31,284.79 325.24,283.02 327.18,280.91 329.11,279.36 331.05,278.19 332.98,278.14 334.92,278.32 336.86,277.43 338.79,277.57 340.73,276.48 342.66,276.62 344.60,275.74 346.53,276.12 348.47,276.19 350.40,276.18 352.34,275.78 354.27,275.57 356.21,275.42 358.15,275.81 360.08,276.21 362.02,275.90 363.95,276.57 365.89,276.04 367.82,276.52 369.76,275.96 371.69,276.28 373.63,276.64 375.56,277.22 377.50,276.88 379.44,277.07 381.37,277.49 383.31,277.65 385.24,277.20 387.18,277.85 389.11,277.71 391.05,277.52 392.98,278.51 394.92,277.59 396.86,277.91 398.79,278.49 400.73,278.65 402.66,278.80 404.60,278.19 406.53,279.33 408.47,278.30 410.40,278.59 412.34,278.91 414.27,278.92 416.21,278.94 418.15,278.96 420.08,278.67 422.02,279.27 423.95,278.73 425.89,278.83 427.82,279.27 429.76,279.07 431.69,279.49 433.63,279.36 435.57,279.29 437.50,278.92 439.44,279.62 441.37,279.73 443.31,279.76 445.24,279.90 447.18,280.24 449.11,279.37 451.05,280.18 452.99,280.18 454.92,280.22 456.86,279.78 458.79,279.08 460.73,279.06 462.66,279.69 464.60,279.89 466.53,280.01 468.47,280.31 470.40,279.77 472.34,280.03 474.28,279.37 476.21,280.15 478.15,280.44 480.08,280.78 482.02,280.86 483.95,280.21 485.89,280.38 487.82,280.91 489.76,281.07 491.69,280.53 493.63,280.73 495.57,280.55 497.50,280.62 499.44,280.86 501.37,281.16 503.31,280.57 505.24,280.59 507.18,280.56 509.11,280.32" fill="none" stroke="#ff7f0e" stroke-width="1.2" stroke-linejoin="round"/>
<polyline points="317.50,367.14 319.44,312.75 321.37,304.72 323.31,299.81 325.24,296.94 327.18,294.86 329.11,292.91 331.05,291.24 332.98,289.47 334.92,287.89 336.86,286.88 338.79,285.82 340.73,285.05 342.66,284.28 344.60,283.64 346.53,283.27 348.47,282.41 350.40,281.95 352.34,281.48 354.27,281.30 356.21,280.87 358.15,280.39 360.08,280.06 362.02,279.78 363.95,279.69 365.89,279.49 367.82,279.46 369.76,279.08 371.69,278.73 373.63,278.52 375.56,277.93 377.50,277.84 379.44,277.55 381.37,277.58 383.31,277.40 385.24,277.16 387.18,276.92 389.11,276.59 391.05,276.39 392.98,276.23 394.92,276.10 396.86,275.89 398.79,275.53 400.73,275.64 402.66,275.39 404.60,275.24 406.53,275.36 408.47,275.06 410.40,274.80 412.34,275.10 414.27,274.78 416.21,274.65 418.15,274.64 420.08,274.37 422.02,274.35 423.95,274.42 425.89,274.05 427.82,273.98 429.76,273.86 431.69,273.72 433.63,273.77 435.57,273.73 437.50,273.83 439.44,273.53 441.37,273.61 443.31,273.52 445.24,273.56 447.18,273.47 449.11,273.36 451.05,273.08 452.99,273.45 454.92,273.34 456.86,273.10 458.79,272.91 460.73,272.99 462.66,273.27 464.60,273.32 466.53,272.93 468.47,273.04 470.40,273.06 472.34,272.77 474.28,272.72 476.21,272.80 478.15,272.75 480.08,272.68 482.02,272.50 483.95,272.58 485.89,272.57 487.82,272.54 489.76,272.78 491.69,272.42 493.63,272.46 495.57,272.52 497.50,272.83 499.44,272.66 501.37,272.48 503.31,272.81 505.24,272.60 507.18,272.46 509.11,272.74" fill="none" stroke="#2ca02c" stroke-width="1.2" stroke-linejoin="round"/>
<polyline points="317.50,318.31 319.44,297.92 321.37,293.59 323.31,291.01 325.24,289.10 327.18,288.59 329.11,287.69 331.05,286.79 332.98,286.06 334.92,285.63 336.86,285.56 338.79,285.35 340.73,284.90 342.66,284.48 344.60,283.60 346.53,283.16 348.47,282.51 350.40,282.58 352.34,282.35 354.27,281.90 356.21,281.77 358.15,282.04 360.08,280.87 362.02,281.16 363.95,280.79 365.89,280.81 367.82,279.66 369.76,280.06 371.69,280.13 373.63,280.46 375.56,279.68 377.50,280.12 379.44,279.33 381.37,280.04 383.31,279.48 385.24,279.08 387.18,279.62 389.11,279.31 391.05,279.29 392.98,279.04 394.92,279.50 396.86,279.12 398.79,278.68 400.73,279.82 402.66,279.62 404.60,279.19 406.53,279.55 408.47,279.77 410.40,278.88 412.34,279.03 414.27,278.99 416.21,279.01 418.15,279.17 420.08,279.74 422.02,280.32 423.95,279.49 425.89,280.08 427.82,279.81 429.76,279.77 431.69,280.34 433.63,280.06 435.57,279.40 437.50,279.71 439.44,280.48 441.37,280.02 443.31,279.95 445.24,279.77 447.18,279.72 449.11,279.98 451.05,280.03 452.99,279.68 454.92,280.43 456.86,279.63 458.79,279.94 460.73,280.28 462.66,280.38 464.60,280.20 466.53,280.83 468.47,281.19 470.40,280.39 472.34,280.11 474.28,280.70 476.21,280.71 478.15,280.81 480.08,281.20 482.02,280.84 483.95,280.79 485.89,281.10 487.82,280.87 489.76,281.53 491.69,281.13 493.63,281.44 495.57,281.32 497.50,281.03 499.44,281.00 501.37,280.71 503.31,280.69 505.24,281.20 507.18,280.33 509.11,281.17" fill="none" stroke="#d62728" stroke-width="1.2" stroke-linejoin="round"/>
</g>
<rect x="307.50" y="233.80" width="215.00" height="139.40" fill="none" stroke="#3a3a3a" stroke-width="0.75"/>
<text x="336.90" y="226.80" font-size="8.4" font-weight="normal" font-style="normal" fill="#1a1a1a" text-anchor="start" textLength="137.00" lengthAdjust="spacingAndGlyphs" stroke="#1a1a1a" stroke-width="0.16">Training Accuracy and Validation Accuracy</text>
<text x="405.50" y="392.20" font-size="6.9" font-weight="normal" font-style="normal" fill="#222" text-anchor="start" textLength="19.00" lengthAdjust="spacingAndGlyphs" stroke="#222" stroke-width="0.12">epoch</text>
<text transform="translate(285.2,304.2) rotate(-90)" font-size="6.8" fill="#222" stroke="#222" stroke-width="0.12" text-anchor="middle" textLength="10.1" lengthAdjust="spacingAndGlyphs">acc</text>
<rect x="396.40" y="329.70" width="123.40" height="39.90" rx="1.2" fill="#fff" fill-opacity="0.85" stroke="#d4d4d4" stroke-width="0.6"/>
<line x1="398.80" y1="334.80" x2="412.30" y2="334.80" stroke="#1f77b4" stroke-width="1.2"/>
<text x="416.90" y="337.40" font-size="6.9" font-weight="normal" font-style="normal" fill="#222" text-anchor="start" textLength="82.90" lengthAdjust="spacingAndGlyphs" stroke="#222" stroke-width="0.12">512 units per layer - train</text>
<line x1="398.80" y1="344.50" x2="412.30" y2="344.50" stroke="#ff7f0e" stroke-width="1.2"/>
<text x="416.90" y="347.10" font-size="6.9" font-weight="normal" font-style="normal" fill="#222" text-anchor="start" textLength="98.60" lengthAdjust="spacingAndGlyphs" stroke="#222" stroke-width="0.12">512 units per layer - validation</text>
<line x1="398.80" y1="354.20" x2="412.30" y2="354.20" stroke="#2ca02c" stroke-width="1.2"/>
<text x="416.90" y="356.80" font-size="6.9" font-weight="normal" font-style="normal" fill="#222" text-anchor="start" textLength="82.90" lengthAdjust="spacingAndGlyphs" stroke="#222" stroke-width="0.12">256 units per layer - train</text>
<line x1="398.80" y1="363.90" x2="412.30" y2="363.90" stroke="#d62728" stroke-width="1.2"/>
<text x="416.90" y="366.50" font-size="6.9" font-weight="normal" font-style="normal" fill="#222" text-anchor="start" textLength="98.60" lengthAdjust="spacingAndGlyphs" stroke="#222" stroke-width="0.12">256 units per layer - validation</text>
<text x="6.90" y="226.80" font-size="11.8" font-weight="bold" font-style="normal" fill="#111" text-anchor="start">b</text>
<text x="276.50" y="227.40" font-size="11.8" font-weight="bold" font-style="normal" fill="#111" text-anchor="start">c</text>
</svg>
</body></html>
